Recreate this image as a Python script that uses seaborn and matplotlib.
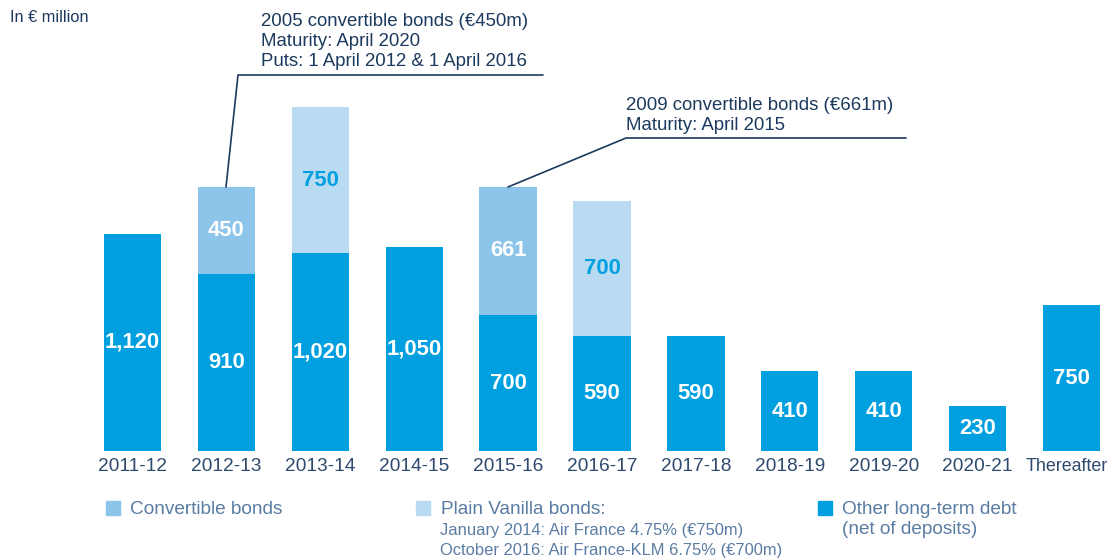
import matplotlib
matplotlib.use("Agg")
import matplotlib.pyplot as plt
import matplotlib.transforms as mtransforms
import seaborn as sns
import numpy as np
import pandas as pd

# data (in EUR million)
periods = ["2011-12", "2012-13", "2013-14", "2014-15", "2015-16", "2016-17",
           "2017-18", "2018-19", "2019-20", "2020-21", "Thereafter"]
other_debt = [1120, 910, 1020, 1050, 700, 590, 590, 410, 410, 230, 750]
convertible = [0, 450, 0, 0, 661, 0, 0, 0, 0, 0, 0]
plain_vanilla = [0, 0, 750, 0, 0, 700, 0, 0, 0, 0, 0]

note_2005 = ["2005 convertible bonds (€450m)", "Maturity: April 2020",
             "Puts: 1 April 2012 & 1 April 2016"]
note_2009 = ["2009 convertible bonds (€661m)", "Maturity: April 2015"]
vanilla_lines = ["January 2014: Air France 4.75% (€750m)",
                 "October 2016: Air France-KLM 6.75% (€700m)"]

c_other = "#009FDF"
c_conv = "#8DC4EA"
c_vanilla = "#B8DBF2"
c_navy = "#1C3A5E"
c_legend = "#5A7CA3"

sns.set_theme(style="white")
plt.rcParams["font.family"] = ["Liberation Sans", "DejaVu Sans"]

df = pd.DataFrame({"period": periods, "other": other_debt,
                   "conv": convertible, "vanilla": plain_vanilla})

W, H = 1108, 560
fig = plt.figure(figsize=(W / 100, H / 100), dpi=100)
ax = fig.add_axes([0, 109 / H, 1, 451 / H])

sns.barplot(data=df, x="period", y="other", order=periods, color=c_other,
            width=0.61, saturation=1, ax=ax, linewidth=0)
sns.barplot(data=df, x="period", y="conv", order=periods, color=c_conv,
            width=0.61, saturation=1, ax=ax, linewidth=0, bottom=df["other"])
sns.barplot(data=df, x="period", y="vanilla", order=periods, color=c_vanilla,
            width=0.61, saturation=1, ax=ax, linewidth=0, bottom=df["other"])

ax.set_xlim(-132.5 / 93.9, (W - 132.5) / 93.9)
ax.set_ylim(0, 451 * 5.15)
for s in ax.spines.values():
    s.set_visible(False)
ax.set_yticks([])
ax.set_xlabel("")
ax.set_ylabel("")
ax.tick_params(axis="x", length=0, pad=5, labelsize=13.8, labelcolor="#2E4A6E")
# last label sits against the right edge: nudge it a little left
last = ax.get_xticklabels()[-1]
last.set_fontsize(12.9)
last.set_transform(last.get_transform() +
                   mtransforms.ScaledTranslation(-5 / 100, 0, fig.dpi_scale_trans))

# value labels
lbl = dict(ha="center", va="center", fontsize=15.8, fontweight="bold")
for i, (o, c, v) in enumerate(zip(other_debt, convertible, plain_vanilla)):
    ax.text(i, o / 2, f"{o:,}", color="white", **lbl)
    if c:
        ax.text(i, o + c / 2, f"{c:,}", color="white", **lbl)
    if v:
        ax.text(i, o + v / 2, f"{v:,}", color=c_other, **lbl)


def ftext(x, y, s, **kw):
    fig.text(x / W, 1 - y / H, s, va="center", **kw)


# callouts
ftext(10, 18, "In € million", fontsize=11.8, color=c_navy)
for k, line in enumerate(note_2005):
    ftext(261, 22 + 20 * k, line, fontsize=13.4, color=c_navy)
fig.add_artist(plt.Line2D([226 / W, 238 / W, 543 / W],
                          [1 - 187 / H, 1 - 75 / H, 1 - 75 / H],
                          color=c_navy, lw=1.2))
for k, line in enumerate(note_2009):
    ftext(626, 105 + 20 * k, line, fontsize=13.4, color=c_navy)
fig.add_artist(plt.Line2D([508 / W, 626 / W, 906 / W],
                          [1 - 187 / H, 1 - 138 / H, 1 - 138 / H],
                          color=c_navy, lw=1.2))


# legend
def square(x, y, color):
    fig.add_artist(plt.Rectangle((x / W, 1 - (y + 14) / H), 14 / W, 14 / H,
                                 color=color, transform=fig.transFigure))


square(106, 501, c_conv)
ftext(130, 509, "Convertible bonds", fontsize=13.7, color=c_legend)
square(416, 501, c_vanilla)
ftext(441, 509, "Plain Vanilla bonds:", fontsize=13.7, color=c_legend)
for k, line in enumerate(vanilla_lines):
    ftext(440, 531 + 20 * k, line, fontsize=11.9, color=c_legend)
square(818, 501, c_other)
ftext(842, 509, "Other long-term debt", fontsize=13.7, color=c_legend)
ftext(842, 530, "(net of deposits)", fontsize=13.7, color=c_legend)

fig.savefig("out.png", dpi=100)
